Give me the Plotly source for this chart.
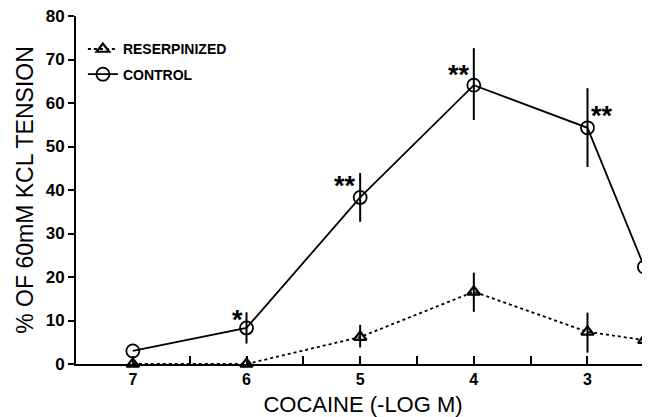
import plotly.graph_objects as go

conc = [7, 6, 5, 4, 3, 2.5]
control = [3.0, 8.3, 38.3, 64.1, 54.3, 22.3]
control_err_up = [0, 3.6, 5.6, 8.5, 9.1, 11.3]
control_err_dn = [0, 3.6, 5.6, 8.0, 9.0, 0]
reserp = [0, 0, 6.2, 16.6, 7.4, 5.5]
reserp_err_up = [0, 0, 2.8, 4.4, 4.4, 5.3]
reserp_err_dn = [0, 0, 2.4, 4.6, 4.8, 0]

sig_x = [6, 5, 4, 3]
sig_y = [10.8, 41.5, 67.2, 57.8]
sig_text = ["*", "**", "**", "**"]
sig_side = ["left", "left", "left", "right"]

xtick_vals = [7, 6.5, 6, 5.5, 5, 4.5, 4, 3.5, 3, 2.5]
xtick_text = ["7", "", "6", "", "5", "", "4", "", "3", ""]

FONT = "Liberation Sans, Arial, sans-serif"

fig = go.Figure()
fig.add_trace(go.Scatter(
    x=conc, y=reserp, name="RESERPINIZED", mode="lines+markers", legendgroup="r",
    line=dict(color="black", width=1.8, dash="dot"),
    marker=dict(symbol="triangle-up-open", size=11, color="black", line=dict(width=2.2)),
    error_y=dict(type="data", symmetric=False, array=reserp_err_up, arrayminus=reserp_err_dn,
                 color="black", thickness=2, width=0),
    cliponaxis=False,
))
fig.add_trace(go.Scatter(
    x=conc, y=control, name="CONTROL", mode="lines+markers", legendgroup="c",
    line=dict(color="black", width=1.8),
    marker=dict(symbol="circle-open", size=13, color="black", line=dict(width=1.8)),
    error_y=dict(type="data", symmetric=False, array=control_err_up, arrayminus=control_err_dn,
                 color="black", thickness=2, width=0),
    cliponaxis=False,
))

for x, y, t, s in zip(sig_x, sig_y, sig_text, sig_side):
    fig.add_annotation(x=x, y=y, text=t, showarrow=False,
                       xanchor="right" if s == "left" else "left",
                       xshift=-2 if s == "left" else 2, yshift=-3,
                       font=dict(family=FONT, size=27, color="black", weight="bold"))

fig.update_layout(
    width=642, height=409,
    margin=dict(l=68, r=0, t=8, b=53),
    paper_bgcolor="white", plot_bgcolor="white",
    font=dict(family=FONT, color="black"),
    showlegend=True,
    legend=dict(x=0.012, y=0.95, xanchor="left", yanchor="top",
                bgcolor="rgba(0,0,0,0)", itemwidth=30,
                font=dict(family=FONT, size=14, color="black", weight="bold"),
                tracegroupgap=4),
    xaxis=dict(range=[7.5, 2.45], tickmode="array", tickvals=xtick_vals, ticktext=xtick_text,
               ticks="inside", ticklen=8, tickwidth=1.8, tickcolor="black",
               showline=True, linecolor="black", linewidth=2, showgrid=False, zeroline=False,
               tickfont=dict(family=FONT, size=16, weight="bold"),
               title=dict(text="COCAINE (-LOG M)", font=dict(family=FONT, size=22), standoff=10)),
    yaxis=dict(range=[0, 80], tickmode="linear", tick0=0, dtick=10,
               ticks="outside", ticklen=6, tickwidth=1.8, tickcolor="black",
               showline=True, linecolor="black", linewidth=2, showgrid=False, zeroline=False,
               ticklabeloverflow="allow",
               tickfont=dict(family=FONT, size=17, weight="bold"),
               title=dict(text="% OF 60mM KCL TENSION", font=dict(family=FONT, size=23), standoff=6)),
)

fig.write_html("out.html")
